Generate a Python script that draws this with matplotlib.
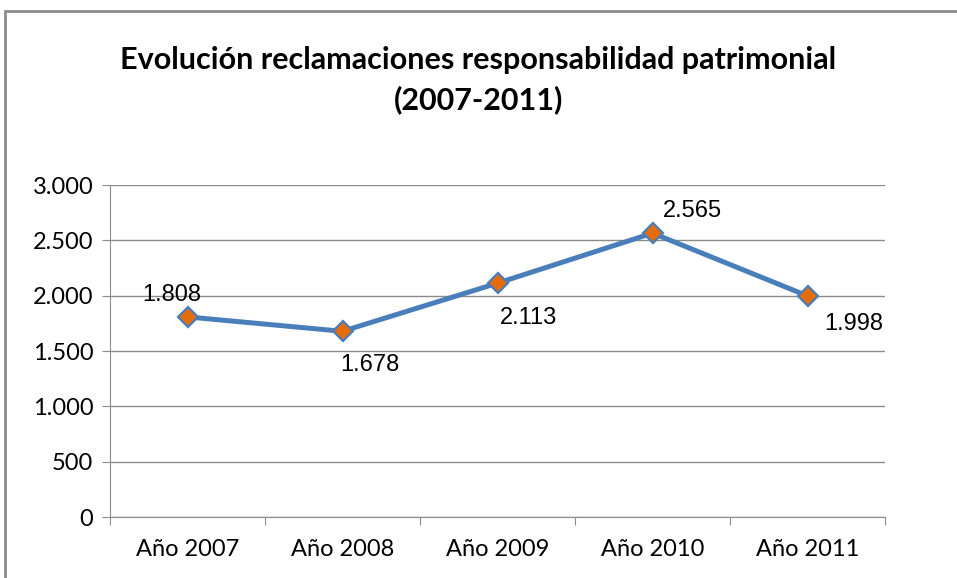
import matplotlib.pyplot as plt
from matplotlib.patches import Rectangle

years = ["Año 2007", "Año 2008", "Año 2009", "Año 2010", "Año 2011"]
claims = [1808, 1678, 2113, 2565, 1998]
value_labels = ["1.808", "1.678", "2.113", "2.565", "1.998"]
yticks = [0, 500, 1000, 1500, 2000, 2500, 3000]
ytick_labels = ["0", "500", "1.000", "1.500", "2.000", "2.500", "3.000"]
# label offsets in points (dx, dy)
offsets = [(-11, 16), (20, -24), (22, -25), (29, 16), (33, -20)]

fig = plt.figure(figsize=(9.57, 5.78), dpi=100)
fig.patches.append(Rectangle((5 / 957, -0.05), 1.2, 1 - 11 / 578 + 0.05, transform=fig.transFigure,
                             fill=False, edgecolor="#8c8c8c", linewidth=2))

ax = fig.add_axes([110 / 957, 61 / 578, 775 / 957, 332 / 578])
x = list(range(len(years)))
ax.plot(x, claims, color="#4a7ebb", linewidth=3.6, marker="D", markersize=10.5,
        markerfacecolor="#e46c0a", markeredgecolor="#4a7ebb", markeredgewidth=1.6, zorder=3)

for xi, yi, lab, (dx, dy) in zip(x, claims, value_labels, offsets):
    ax.annotate(lab, (xi, yi), xytext=(dx, dy), textcoords="offset points",
                ha="center", va="center", fontsize=17, family="Liberation Sans", color="black")

ax.set_xlim(-0.5, len(years) - 0.5)
ax.set_ylim(0, 3000)
ax.set_yticks(yticks)
ax.set_yticklabels(ytick_labels, family="Lato", fontsize=17)
ax.set_xticks([i - 0.5 for i in range(len(years) + 1)], minor=False)
ax.set_xticklabels([])
ax.set_xticks(x, minor=True)
ax.set_xticklabels(years, minor=True, family="Lato", fontsize=17)
ax.tick_params(axis="x", which="minor", length=0, pad=16)
ax.tick_params(axis="x", which="major", length=6, color="#8c8c8c", direction="out")
ax.tick_params(axis="y", length=6, color="#8c8c8c", pad=6)
ax.grid(axis="y", color="#8c8c8c", linewidth=1)
ax.set_axisbelow(True)
for s in ["top", "right"]:
    ax.spines[s].set_visible(False)
for s in ["left", "bottom"]:
    ax.spines[s].set_color("#8c8c8c")

fig.text(0.5, 1 - 60 / 578, "Evolución reclamaciones responsabilidad patrimonial", ha="center", va="center",
         fontsize=22, fontweight="bold", family="Lato")
fig.text(0.5, 1 - 100 / 578, "(2007-2011)", ha="center", va="center",
         fontsize=22, fontweight="bold", family="Lato")

fig.savefig("out.png", dpi=100)
